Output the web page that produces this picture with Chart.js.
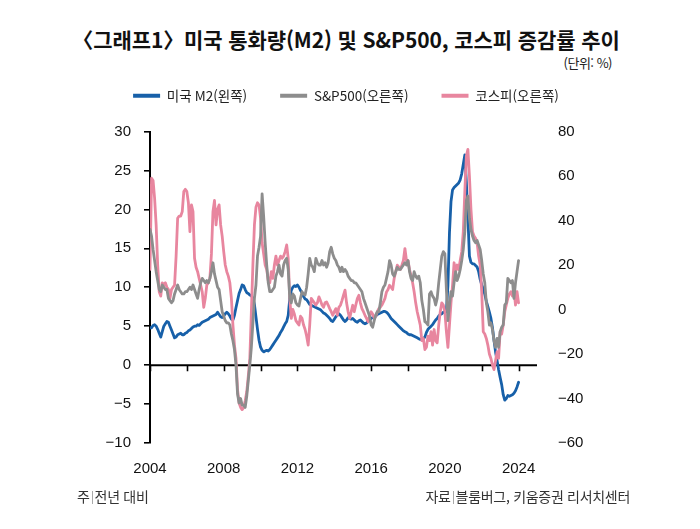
<!DOCTYPE html>
<html lang="ko">
<head>
<meta charset="utf-8">
<script src="https://cdn.jsdelivr.net/npm/chart.js@4.4.1/dist/chart.umd.min.js"></script>
<style>
  body { margin: 0; background: #fff; }
  #wrap { position: relative; width: 700px; height: 529px; background: #fff; font-family: "Noto Sans CJK KR", sans-serif; color: #222; }
  #chart { position: absolute; left: 0; top: 0; }
  .title { position: absolute; left: 60px; width: 572px; top: 24px; text-align: center; white-space: nowrap;
           font-size: 21px; font-weight: 700; letter-spacing: -0.1px; color: #111; }
  .unit { position: absolute; right: 88px; top: 53px; font-size: 13px; letter-spacing: -0.5px; color: #222; }
  .note, .source { position: absolute; top: 486px; font-size: 14px; letter-spacing: -0.3px; color: #333; white-space: nowrap; }
  .note { left: 77px; }
  .source { right: 70px; }
  .bar { display: inline-block; width: 1px; height: 13px; background: #aaa; margin: 0 2px; vertical-align: -2px; }
</style>
</head>
<body>
<div id="wrap">
  <div class="title">〈그래프1〉미국 통화량(M2) 및 S&amp;P500, 코스피 증감률 추이</div>
  <div class="unit">(단위: %)</div>
  <canvas id="chart" width="700" height="529"></canvas>
  <div class="note">주<span class="bar"></span>전년 대비</div>
  <div class="source">자료<span class="bar"></span>블룸버그, 키움증권 리서치센터</div>
</div>
<script>
// monthly, Jan 2004 .. Jan 2024 (year-over-year %)
const startYear = 2004;

const m2 = [
  4.8, 4.8, 5.1, 5.2, 5.0, 4.6, 4.1, 3.6, 4.3, 5.0, 5.3, 5.6,
  5.5, 5.0, 4.5, 4.0, 3.5, 3.6, 3.9, 4.0, 4.1, 3.9, 3.9, 4.1,
  4.2, 4.4, 4.5, 4.7, 4.9, 5.0, 5.0, 5.2, 5.1, 5.3, 5.5, 5.6,
  5.7, 5.8, 5.9, 6.1, 6.2, 6.3, 6.4, 6.5, 6.8, 6.5, 6.2, 6.1,
  6.3, 6.6, 6.8, 6.6, 6.3, 5.9, 5.8, 6.4, 7.4, 8.3, 9.2, 9.7,
  10.3, 10.2, 9.7, 9.3, 9.2, 9.0, 8.9, 8.6, 7.8, 6.2, 4.6, 3.2,
  2.3, 1.9, 1.7, 1.8, 1.9, 1.8, 2.0, 2.3, 2.6, 2.9, 3.2, 3.5,
  3.8, 4.2, 4.5, 4.9, 5.3, 5.6, 6.4, 8.5, 9.6, 10.0, 10.2, 10.1,
  10.3, 10.0, 9.6, 9.3, 8.8, 8.5, 8.4, 8.1, 7.8, 7.7, 7.6, 7.5,
  7.4, 7.3, 7.2, 7.1, 6.9, 6.7, 6.6, 6.4, 6.2, 6.0, 5.7, 5.6,
  5.9, 6.2, 6.4, 6.6, 6.4, 6.1, 5.8, 5.6, 5.8, 6.1, 6.0, 5.9,
  6.0, 5.8, 5.6, 5.5, 5.7, 5.8, 5.6, 5.4, 5.3, 5.4, 5.6, 5.8,
  6.0, 6.1, 6.2, 6.3, 6.5, 6.6, 6.7, 6.8, 6.9, 6.9, 6.8, 6.6,
  6.3, 6.0, 5.8, 5.6, 5.4, 5.2, 5.0, 4.8, 4.6, 4.4, 4.3, 4.2,
  4.0, 3.9, 3.9, 3.8, 3.7, 3.6, 3.5, 3.4, 3.3, 3.3, 3.4, 3.6,
  4.2, 4.6, 4.8, 5.0, 5.2, 5.5, 5.8, 6.0, 6.3, 6.5, 6.6, 6.8,
  6.8, 6.9, 10.2, 17.0, 21.0, 22.5, 22.8, 23.0, 23.2, 23.4, 23.8, 24.6,
  25.8, 27.0, 23.5, 19.0, 14.0, 13.2, 13.0, 13.0, 12.8, 12.6, 12.0, 11.0,
  10.3, 9.8, 9.1, 8.2, 7.5, 6.8, 6.0, 4.8, 3.2, 1.7, 0.6, -0.6,
  -1.6, -2.5, -3.8, -4.5, -4.3, -3.9, -4.0, -3.9, -3.8, -3.6, -3.3, -2.8,
  -2.2
];

const sp500 = [
  36, 33, 27, 22, 17, 13, 9, 8, 11, 10, 9, 9,
  5, 4, 3, 4, 7, 9, 11, 9, 8, 7, 7, 8,
  8, 9, 10, 9, 11, 9, 7, 5, 9, 12, 14, 13,
  12, 13, 12, 14, 17, 21, 16, 13, 10, 9, 4, -1,
  -3, -5, -6, -6, -7, -11, -14, -18, -25, -38, -42, -40,
  -43, -43, -44, -39, -32, -25, -17, -6, 5, 11, 24, 28,
  33, 52, 42, 30, 20, 12, 8, 8, 9, 10, 15, 17,
  20, 16, 15, 20, 22, 23, 18, 5, 3, 7, 6, 3,
  2, 1.6, 5, 8, 7, 6.5, 10, 16, 23, 20, 19, 17,
  23, 21, 20, 20, 22, 20, 21, 19, 21, 26, 28, 25,
  23, 22, 20, 19, 17, 19, 17, 18, 17, 15, 14, 13,
  13, 12, 12, 11, 10, 9, 8, 5, 3, 1, -1, -3,
  -7, -8, -5, -2.5, -1, -1, 3, 8, 10, 11, 14, 17,
  22, 20, 16, 15, 17, 19, 18, 18, 19, 20, 21, 20,
  22, 17, 14, 13, 17, 15, 14, 15, 12, 4, 0, -5.5,
  -6, -7, 7, 8, 6, 5, 2, 5, 12, 18, 24, 26,
  25, 9, -5, 2, 8, 6, 12, 17, 13, 15, 18, 22,
  27, 35, 49, 51, 41, 36, 33, 31, 30, 31, 29, 27,
  22, 16, 12, 3, -1, -7, -6, -9, -14, -17, -13, -17,
  -10, -8, -7, 2, 3, 14, 13, 12, 13, 5, 12, 17,
  22
];

const kospi = [
  18, 59, 58, 50, 38, 20, 8, 6, 12, 11, 12, 10,
  9, 5, 9, 10, 11, 24, 41, 42, 42, 44, 53, 54,
  53, 48, 35, 47, 44, 23, 19, 17, 14, 11, 8, 1,
  5, 11, 12, 14, 25, 44, 49, 38, 45, 47, 38, 33,
  26, 20, 17, 15, 12, 5, -7, -16, -22, -36, -42, -44,
  -45, -44, -41, -37, -30, -22, -1, 20, 38, 46, 48, 47,
  41, 30, 25, 20, 18, 13, 12, 17, 14, 20, 24, 20,
  22, 24, 23, 24, 26, 29, 23, 5, -4, 0, -2, -5,
  -6, -7, -3, -4, -7, -9, -12, -16, -7, 5, 4, 3,
  2, 3, 5.7, 4, 2, 1, 3, 3.4, 2, 0.4, -1, -2.6,
  -1, 0.4, -2.6, 1, 1.9, 4, 6.4, 8.7, 3, -1, -4, -1,
  1.9, -1, 2, 4.9, 6.4, 3, 0.4, -1, -2.6, -4, -5.5, -3,
  -1, -2, -4, -3, -1, 0.4, 1, 2, 3.4, 5, 7.9, 9,
  10.9, 10, 9, 14, 17, 19.9, 19, 18, 19.9, 22, 27.4, 22,
  22, 18, 15, 12, 8, 3, -1, -4, -7, -14, -13, -18,
  -17, -12, -14, -10, -16, -9, -14, -15, -7, -1, 3, 2,
  -1, -10, -17, -7, 3, 11, 21, 17, 20, 18, 22, 26,
  35, 53, 69, 72, 60, 45, 35, 33, 32, 30, 24, 20,
  8, -10, -11, -13, -16, -20, -22, -25, -27, -23, -19, -22,
  -10, -11, -7, -1, 2, 5, 7, 8, 6, 9, 2, 8,
  3
];

const months = m2.map((v, i) => startYear + i / 12);
const yearLabels = [2004, 2008, 2012, 2016, 2020, 2024];

const toPoints = vals => vals.map((v, i) => ({ x: months[i], y: v }));
const minus = v => (v < 0 ? '\u2212' + Math.abs(v) : String(v));

// zero line of the left axis with the small year ticks under it
const zeroAxis = {
  id: 'zeroAxis',
  beforeDatasetsDraw(chart) {
    const { ctx, chartArea, scales } = chart;
    const y0 = scales.y.getPixelForValue(0);
    ctx.save();
    ctx.strokeStyle = '#000';
    ctx.lineWidth = 2;
    ctx.beginPath();
    ctx.moveTo(chartArea.left, y0);
    ctx.lineTo(chartArea.right, y0);
    ctx.stroke();
    ctx.lineWidth = 1.6;
    ctx.beginPath();
    scales.x.ticks.forEach(t => {
      if (t.value % 2 !== 0 || t.value > 2024) return;
      const px = Math.round(scales.x.getPixelForValue(t.value)) + 0.5;
      ctx.moveTo(px, y0);
      ctx.lineTo(px, y0 + 6);
    });
    ctx.stroke();
    ctx.restore();
  }
};

const tickFont = { family: 'Liberation Sans, Arial, sans-serif', size: 15 };

new Chart(document.getElementById('chart'), {
  type: 'line',
  data: {
    datasets: [
      {
        label: '미국 M2(왼쪽)',
        data: toPoints(m2),
        yAxisID: 'y',
        borderColor: '#1760a9',
        backgroundColor: '#1760a9',
        order: 3
      },
      {
        label: 'S&P500(오른쪽)',
        data: toPoints(sp500),
        yAxisID: 'y1',
        borderColor: '#8d8d8d',
        backgroundColor: '#8d8d8d',
        order: 1
      },
      {
        label: '코스피(오른쪽)',
        data: toPoints(kospi),
        yAxisID: 'y1',
        borderColor: '#e8869f',
        backgroundColor: '#e8869f',
        order: 2
      }
    ]
  },
  options: {
    responsive: false,
    animation: false,
    layout: { padding: { top: 56, left: 80, right: 88, bottom: 0 } },
    elements: {
      point: { radius: 0 },
      line: { borderWidth: 2.8, tension: 0, borderJoinStyle: 'round', borderCapStyle: 'round' }
    },
    plugins: {
      legend: {
        position: 'top',
        labels: {
          boxWidth: 27,
          boxHeight: 4,
          padding: 33,
          color: '#222',
          font: { family: 'Noto Sans CJK KR', size: 13.5 },
          sort: (a, b) => a.datasetIndex - b.datasetIndex,
          generateLabels(chart) {
            return Chart.defaults.plugins.legend.labels.generateLabels(chart)
              .map(l => Object.assign(l, { lineWidth: 0 }));
          }
        }
      },
      tooltip: { enabled: false }
    },
    scales: {
      x: {
        type: 'linear',
        min: 2004,
        max: 2025,
        afterFit(scale) { scale.height = 86; },
        grid: { display: false, drawTicks: false },
        border: { display: false },
        ticks: {
          stepSize: 2,
          includeBounds: false,
          autoSkip: false,
          maxRotation: 0,
          padding: 17,
          color: '#111',
          font: tickFont,
          callback: v => (yearLabels.includes(v) ? String(v) : '')
        }
      },
      // empty top band: keeps the gap between the legend and the plot
      xTop: {
        type: 'linear',
        position: 'top',
        min: 2004,
        max: 2025,
        afterFit(scale) { scale.height = 19; },
        grid: { display: false, drawTicks: false },
        border: { display: false },
        ticks: { display: false }
      },
      y: {
        position: 'left',
        min: -10,
        max: 30,
        afterFit(scale) { scale.width = 70; },
        grid: { drawOnChartArea: false, drawTicks: true, tickLength: 6, color: '#000', lineWidth: 1.6 },
        border: { display: true, color: '#000', width: 2 },
        ticks: { stepSize: 5, padding: 13, color: '#111', font: tickFont, callback: minus }
      },
      y1: {
        position: 'right',
        min: -60,
        max: 80,
        afterFit(scale) { scale.width = 75; },
        grid: { display: false, drawTicks: false },
        border: { display: false },
        ticks: { stepSize: 20, padding: 21, color: '#111', font: tickFont, callback: minus }
      }
    }
  },
  plugins: [zeroAxis]
});
</script>
</body>
</html>
